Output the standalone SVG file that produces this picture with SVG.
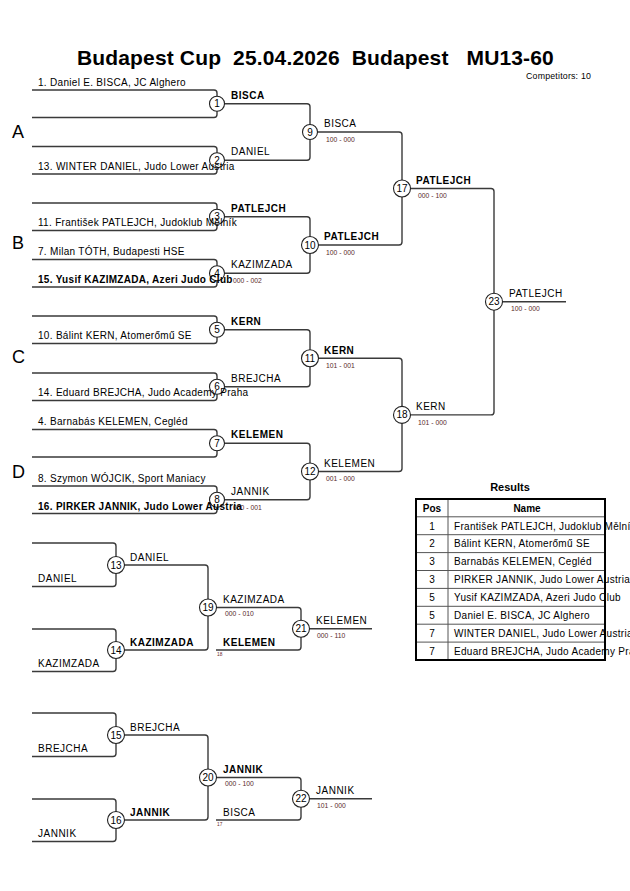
<svg xmlns="http://www.w3.org/2000/svg" width="630" height="891" viewBox="0 0 630 891">
<style>
text{font-family:"Liberation Sans",Arial,sans-serif;fill:#000}
.ln{fill:none;stroke:#3a3a3a;stroke-width:1.4}
.c{fill:#fff;stroke:#222;stroke-width:1.1}
.cn{font-size:10px;text-anchor:middle}
.p{font-size:10px;letter-spacing:0.3px}
.w{font-size:10px;letter-spacing:0.5px}
.b{font-weight:bold}
.s{font-size:6.8px;fill:#5a2a2a}
.t{font-size:4.8px;fill:#6b2b2b}
.pool{font-size:18px}
.title{font-size:21px;font-weight:bold;white-space:pre;letter-spacing:0.15px}
.tb{fill:none;stroke:#000;stroke-width:2}
.tl{stroke:#555;stroke-width:1}
.r{font-size:10px;letter-spacing:0.3px}
</style>
<rect width="630" height="891" fill="#fff"/>
<text class="title" x="77" y="65" xml:space="preserve">Budapest Cup  25.04.2026  Budapest   MU13-60</text>
<text x="526" y="79" style="font-size:8.8px;letter-spacing:0.2px">Competitors: 10</text>
<text class="pool" x="12" y="138">A</text>
<text class="pool" x="12" y="249">B</text>
<text class="pool" x="12" y="363">C</text>
<text class="pool" x="12" y="478">D</text>

<g id="connectors">
<path class="ln" d="M32,90 H214 Q217,90 217,93 V114.5 Q217,117.5 214,117.5 H32"/>
<path class="ln" d="M32,146.5 H214 Q217,146.5 217,149.5 V171 Q217,174 214,174 H32"/>
<path class="ln" d="M32,203 H214 Q217,203 217,206 V227.5 Q217,230.5 214,230.5 H32"/>
<path class="ln" d="M32,259.5 H214 Q217,259.5 217,262.5 V284 Q217,287 214,287 H32"/>
<path class="ln" d="M32,316 H214 Q217,316 217,319 V340.5 Q217,343.5 214,343.5 H32"/>
<path class="ln" d="M32,373 H214 Q217,373 217,376 V397.5 Q217,400.5 214,400.5 H32"/>
<path class="ln" d="M32,429.5 H214 Q217,429.5 217,432.5 V454 Q217,457 214,457 H32"/>
<path class="ln" d="M32,486 H214 Q217,486 217,489 V510.5 Q217,513.5 214,513.5 H32"/>
<path class="ln" d="M217,103.75 H307 Q310,103.75 310,106.75 V157.25 Q310,160.25 307,160.25 H217"/>
<path class="ln" d="M217,216.75 H307 Q310,216.75 310,219.75 V270.25 Q310,273.25 307,273.25 H217"/>
<path class="ln" d="M217,329.75 H307 Q310,329.75 310,332.75 V383.75 Q310,386.75 307,386.75 H217"/>
<path class="ln" d="M217,443.25 H307 Q310,443.25 310,446.25 V496.75 Q310,499.75 307,499.75 H217"/>
<path class="ln" d="M310,132 H399 Q402,132 402,135 V242 Q402,245 399,245 H310"/>
<path class="ln" d="M310,358.25 H399 Q402,358.25 402,361.25 V468.5 Q402,471.5 399,471.5 H310"/>
<path class="ln" d="M402,188.5 H491 Q494,188.5 494,191.5 V411.9 Q494,414.9 491,414.9 H402"/>
<path class="ln" d="M494,301.7 H566"/>
<path class="ln" d="M32,543 H113 Q116,543 116,546 V583.5 Q116,586.5 113,586.5 H32"/>
<path class="ln" d="M32,629 H113 Q116,629 116,632 V668.5 Q116,671.5 113,671.5 H32"/>
<path class="ln" d="M116,565 H205 Q208,565 208,568 V647 Q208,650 205,650 H116"/>
<path class="ln" d="M208,607.5 H298 Q301,607.5 301,610.5 V647 Q301,650 298,650 H216"/>
<path class="ln" d="M301,628.75 H372"/>
<path class="ln" d="M32,713 H113 Q116,713 116,716 V753.5 Q116,756.5 113,756.5 H32"/>
<path class="ln" d="M32,799 H113 Q116,799 116,802 V838.5 Q116,841.5 113,841.5 H32"/>
<path class="ln" d="M116,735 H205 Q208,735 208,738 V817 Q208,820 205,820 H116"/>
<path class="ln" d="M208,777.5 H298 Q301,777.5 301,780.5 V817 Q301,820 298,820 H216"/>
<path class="ln" d="M301,798.75 H372"/>
</g>

<g id="m1"><circle class="c" cx="217" cy="103.75" r="7.5"/><text class="cn" x="217" y="107.3">1</text><text class="w b" x="231" y="98.5">BISCA</text></g>
<g id="m2"><circle class="c" cx="217" cy="160.25" r="7.5"/><text class="cn" x="217" y="163.8">2</text><text class="w" x="231" y="155">DANIEL</text></g>
<g id="m3"><circle class="c" cx="217" cy="216.75" r="7.5"/><text class="cn" x="217" y="220.3">3</text><text class="w b" x="231" y="211.5">PATLEJCH</text></g>
<g id="m4"><circle class="c" cx="217" cy="273.25" r="7.5"/><text class="cn" x="217" y="276.8">4</text><text class="w" x="231" y="268">KAZIMZADA</text><text class="s" x="233" y="283">000 - 002</text></g>
<g id="m5"><circle class="c" cx="217" cy="329.75" r="7.5"/><text class="cn" x="217" y="333.3">5</text><text class="w b" x="231" y="324.5">KERN</text></g>
<g id="m6"><circle class="c" cx="217" cy="386.75" r="7.5"/><text class="cn" x="217" y="390.3">6</text><text class="w" x="231" y="381.5">BREJCHA</text></g>
<g id="m7"><circle class="c" cx="217" cy="443.25" r="7.5"/><text class="cn" x="217" y="446.8">7</text><text class="w b" x="231" y="438">KELEMEN</text></g>
<g id="m8"><circle class="c" cx="217" cy="499.75" r="7.5"/><text class="cn" x="217" y="503.3">8</text><text class="w" x="231" y="494.5">JANNIK</text><text class="s" x="233" y="509.5">000 - 001</text></g>

<g id="m9"><circle class="c" cx="310" cy="132" r="7.5"/><text class="cn" x="310" y="135.5">9</text><text class="w" x="324" y="127">BISCA</text><text class="s" x="326" y="141.5">100 - 000</text></g>
<g id="m10"><circle class="c" cx="310" cy="245" r="8.5"/><text class="cn" x="310" y="248.5">10</text><text class="w b" x="324" y="240">PATLEJCH</text><text class="s" x="326" y="254.5">100 - 000</text></g>
<g id="m11"><circle class="c" cx="310" cy="358.25" r="8.5"/><text class="cn" x="310" y="361.8">11</text><text class="w b" x="324" y="353.5">KERN</text><text class="s" x="326" y="367.8">101 - 001</text></g>
<g id="m12"><circle class="c" cx="310" cy="471.5" r="8.5"/><text class="cn" x="310" y="475">12</text><text class="w" x="324" y="466.5">KELEMEN</text><text class="s" x="326" y="481">001 - 000</text></g>
<g id="m17"><circle class="c" cx="402" cy="188.5" r="8.5"/><text class="cn" x="402" y="192">17</text><text class="w b" x="416" y="183.5">PATLEJCH</text><text class="s" x="418" y="198">000 - 100</text></g>
<g id="m18"><circle class="c" cx="402" cy="414.9" r="8.5"/><text class="cn" x="402" y="418.4">18</text><text class="w" x="416" y="410">KERN</text><text class="s" x="418" y="424.5">101 - 000</text></g>
<g id="m23"><circle class="c" cx="494" cy="301.7" r="8.5"/><text class="cn" x="494" y="305.2">23</text><text class="w" x="509" y="297">PATLEJCH</text><text class="s" x="511" y="311">100 - 000</text></g>

<g id="m13"><circle class="c" cx="116" cy="565" r="8.5"/><text class="cn" x="116" y="568.5">13</text><text class="w" x="38" y="582">DANIEL</text><text class="w" x="130" y="560.5">DANIEL</text></g>
<g id="m14"><circle class="c" cx="116" cy="650" r="8.5"/><text class="cn" x="116" y="653.5">14</text><text class="w" x="38" y="667">KAZIMZADA</text><text class="w b" x="130" y="645.5">KAZIMZADA</text></g>
<g id="m19"><circle class="c" cx="208" cy="607.5" r="8.5"/><text class="cn" x="208" y="611">19</text><text class="w" x="223" y="602.5">KAZIMZADA</text><text class="s" x="225" y="616">000 - 010</text><text class="w b" x="223" y="645.5">KELEMEN</text><text class="t" x="217" y="656">18</text></g>
<g id="m21"><circle class="c" cx="301" cy="628.75" r="8.5"/><text class="cn" x="301" y="632.3">21</text><text class="w" x="316" y="624">KELEMEN</text><text class="s" x="317" y="638">000 - 110</text></g>
<g id="m15"><circle class="c" cx="116" cy="735" r="8.5"/><text class="cn" x="116" y="738.5">15</text><text class="w" x="38" y="752">BREJCHA</text><text class="w" x="130" y="730.5">BREJCHA</text></g>
<g id="m16"><circle class="c" cx="116" cy="820" r="8.5"/><text class="cn" x="116" y="823.5">16</text><text class="w" x="38" y="837">JANNIK</text><text class="w b" x="130" y="815.5">JANNIK</text></g>
<g id="m20"><circle class="c" cx="208" cy="777.5" r="8.5"/><text class="cn" x="208" y="781">20</text><text class="w b" x="223" y="772.5">JANNIK</text><text class="s" x="225" y="786">000 - 100</text><text class="w" x="223" y="815.5">BISCA</text><text class="t" x="217" y="826">17</text></g>
<g id="m22"><circle class="c" cx="301" cy="798.75" r="8.5"/><text class="cn" x="301" y="802.3">22</text><text class="w" x="316" y="794">JANNIK</text><text class="s" x="317" y="808">101 - 000</text></g>

<g id="participants">
<text class="p" x="38" y="85.5">1. Daniel E. BISCA, JC Alghero</text>
<text class="p" x="38" y="169.5">13. WINTER DANIEL, Judo Lower Austria</text>
<text class="p" x="38" y="226">11. František PATLEJCH, Judoklub Mělník</text>
<text class="p" x="38" y="255">7. Milan TÓTH, Budapesti HSE</text>
<text class="p b" x="38" y="283">15. Yusif KAZIMZADA, Azeri Judo Club</text>
<text class="p" x="38" y="339">10. Bálint KERN, Atomerőmű SE</text>
<text class="p" x="38" y="396">14. Eduard BREJCHA, Judo Academy Praha</text>
<text class="p" x="38" y="425">4. Barnabás KELEMEN, Cegléd</text>
<text class="p" x="38" y="481.5">8. Szymon WÓJCIK, Sport Maniacy</text>
<text class="p b" x="38" y="509.5">16. PIRKER JANNIK, Judo Lower Austria</text>
</g>

<g id="results">
<text x="510" y="491" style="font-size:11px;font-weight:bold;text-anchor:middle">Results</text>
<line class="tl" x1="448" y1="499" x2="448" y2="660"/>
<line class="tl" x1="416" y1="516.8" x2="605" y2="516.8"/>
<line class="tl" x1="416" y1="534.7" x2="605" y2="534.7"/>
<line class="tl" x1="416" y1="552.6" x2="605" y2="552.6"/>
<line class="tl" x1="416" y1="570.5" x2="605" y2="570.5"/>
<line class="tl" x1="416" y1="588.4" x2="605" y2="588.4"/>
<line class="tl" x1="416" y1="606.3" x2="605" y2="606.3"/>
<line class="tl" x1="416" y1="624.2" x2="605" y2="624.2"/>
<line class="tl" x1="416" y1="642.1" x2="605" y2="642.1"/>
<rect class="tb" x="416" y="499" width="189" height="161"/>
<text x="432" y="511.5" style="font-size:10px;font-weight:bold;text-anchor:middle">Pos</text>
<text x="527" y="511.5" style="font-size:10px;font-weight:bold;text-anchor:middle">Name</text>
<g style="font-size:10px;text-anchor:middle">
<text x="432" y="529.5">1</text><text x="432" y="547.4">2</text><text x="432" y="565.3">3</text><text x="432" y="583.2">3</text>
<text x="432" y="601.1">5</text><text x="432" y="619">5</text><text x="432" y="636.9">7</text><text x="432" y="654.8">7</text>
</g>
<text class="r" x="454" y="529.5">František PATLEJCH, Judoklub Mělník</text>
<text class="r" x="454" y="547.4">Bálint KERN, Atomerőmű SE</text>
<text class="r" x="454" y="565.3">Barnabás KELEMEN, Cegléd</text>
<text class="r" x="454" y="583.2">PIRKER JANNIK, Judo Lower Austria</text>
<text class="r" x="454" y="601.1">Yusif KAZIMZADA, Azeri Judo Club</text>
<text class="r" x="454" y="619">Daniel E. BISCA, JC Alghero</text>
<text class="r" x="454" y="636.9">WINTER DANIEL, Judo Lower Austria</text>
<text class="r" x="454" y="654.8">Eduard BREJCHA, Judo Academy Praha</text>
</g>
</svg>
